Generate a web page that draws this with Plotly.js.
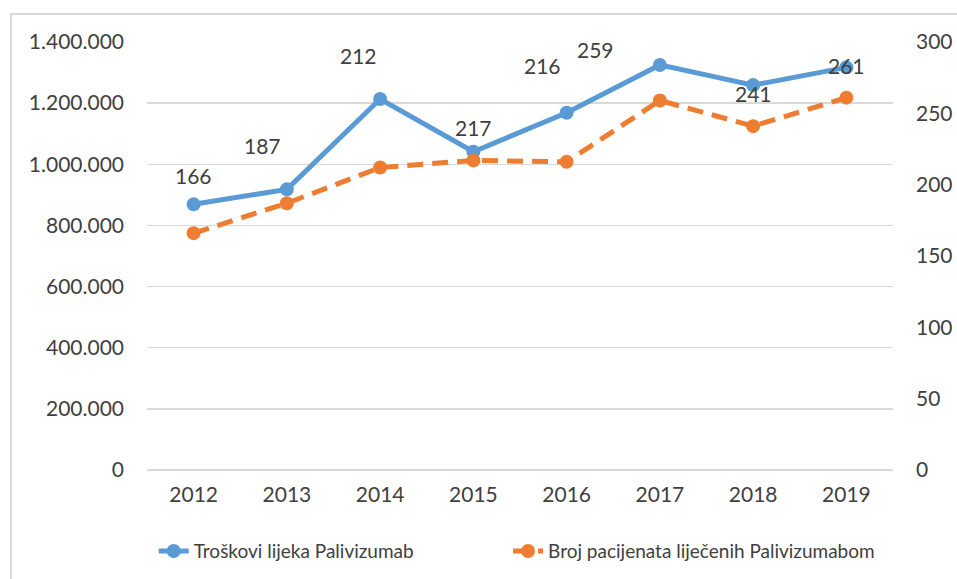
<!DOCTYPE html>
<html>
<head>
<meta charset="utf-8">
<script src="https://cdn.plot.ly/plotly-3.0.1.min.js"></script>
<style>
  html, body { margin: 0; padding: 0; background: #ffffff; overflow: hidden; }
  #frame { position: absolute; left: 10px; top: 13px; width: 1200px; height: 800px;
           border-top: 2px solid #d9d9d9; border-left: 2px solid #d9d9d9; }
  #chart { position: absolute; left: 0; top: 0; width: 957px; height: 579px; }
</style>
</head>
<body>
<div id="frame"></div>
<div id="chart"></div>
<script>
// ---- data ----
const years = ['2012', '2013', '2014', '2015', '2016', '2017', '2018', '2019'];
const costs = [869000, 918000, 1213500, 1041000, 1168500, 1325000, 1259000, 1317000];
const patients = [166, 187, 212, 217, 216, 259, 241, 261];
const costName = 'Troškovi lijeka Palivizumab';
const patientName = 'Broj pacijenata liječenih Palivizumabom';
const leftTicks = [0, 200000, 400000, 600000, 800000, 1000000, 1200000, 1400000];
const rightTicks = [0, 50, 100, 150, 200, 250, 300];

// label placement offsets in pixels (manual placement as in the original)
const labelShift = [[0, 58], [-24, 58], [-22, 112], [0, 33], [-24, 96], [-64, 51], [0, 33], [0, 32]];

const FONT = 'Lato, Open Sans, sans-serif';
const TXT = '#404040';

const traces = [
  {
    x: years, y: costs, name: costName, type: 'scatter', mode: 'lines+markers',
    line: { color: '#5B9BD5', width: 5 },
    marker: { color: '#5B9BD5', size: 14 },
    yaxis: 'y', legend: 'legend'
  },
  {
    x: years, y: patients, name: patientName, type: 'scatter', mode: 'lines+markers',
    line: { color: '#ED7D31', width: 5, dash: '16px,9px' },
    marker: { color: '#ED7D31', size: 14 },
    yaxis: 'y2', legend: 'legend2'
  }
];

const annotations = years.map((yr, i) => ({
  x: i, y: patients[i], xref: 'x', yref: 'y2',
  text: String(patients[i]), showarrow: false,
  xshift: labelShift[i][0], yshift: labelShift[i][1],
  font: { family: FONT, size: 21, color: TXT }
}));

const legendBase = {
  orientation: 'h', xanchor: 'left',
  yref: 'container', y: 0.048, yanchor: 'middle',
  font: { family: FONT, size: 19, color: TXT },
  bgcolor: 'rgba(0,0,0,0)'
};

const layout = {
  width: 957, height: 579,
  margin: { l: 147, r: 64, t: 42, b: 109, autoexpand: false },
  paper_bgcolor: 'rgba(0,0,0,0)',
  plot_bgcolor: 'rgba(0,0,0,0)',
  separators: ',.',
  font: { family: FONT, size: 21, color: TXT },
  showlegend: true,
  legend: Object.assign({}, legendBase, { x: 0.009 }),
  legend2: Object.assign({}, legendBase, { x: 0.484 }),
  xaxis: {
    type: 'category', range: [-0.5, 7.5],
    showgrid: false, zeroline: false, showline: false,
    ticks: '', ticklabelstandoff: 10,
    tickfont: { family: FONT, size: 21, color: TXT }
  },
  yaxis: {
    range: [0, 1400000], tickvals: leftTicks, tickformat: ',d',
    showgrid: true, gridcolor: '#d9d9d9', gridwidth: 1.5,
    zeroline: true, zerolinecolor: '#d9d9d9', zerolinewidth: 1.5,
    showline: false, ticks: '', ticklabelstandoff: 22,
    tickfont: { family: FONT, size: 21, color: TXT }
  },
  yaxis2: {
    range: [0, 300], tickvals: rightTicks, overlaying: 'y', side: 'right',
    showgrid: false, zeroline: false, showline: false,
    ticks: '', ticklabelstandoff: 22,
    tickfont: { family: FONT, size: 21, color: TXT }
  },
  annotations: annotations
};

Plotly.newPlot('chart', traces, layout, { displayModeBar: false, staticPlot: true });
</script>
</body>
</html>
